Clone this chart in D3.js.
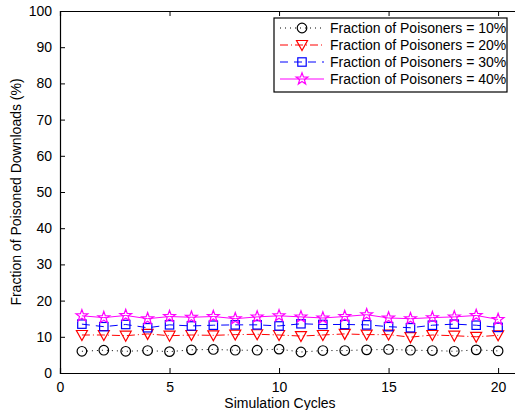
<!DOCTYPE html>
<html lang="en">
<head>
<meta charset="UTF-8">
<title>Fraction of Poisoned Downloads</title>
<style>
  body { margin: 0; background: #fff; }
  svg { display: block; font-family: "Liberation Sans", Arial, sans-serif; }
  .axis path, .axis line { stroke: #000; }
  .axis text { font-size: 14px; fill: #000; }
</style>
</head>
<body>
<svg id="chart"></svg>
<script src="https://cdnjs.cloudflare.com/ajax/libs/d3/7.8.5/d3.min.js"></script>
<script>
var cycles = d3.range(1, 21);
var xTicks = [0, 5, 10, 15, 20];
var yTicks = [0, 10, 20, 30, 40, 50, 60, 70, 80, 90, 100];

var p10 = [6.0, 6.3, 6.0, 6.2, 5.9, 6.4, 6.5, 6.3, 6.3, 6.6, 5.8, 6.2, 6.2, 6.4, 6.5, 6.3, 6.2, 6.0, 6.4, 6.1];
var p20 = [10.5, 10.5, 10.3, 10.8, 10.3, 10.5, 10.4, 10.6, 10.7, 10.5, 10.2, 10.5, 10.8, 10.6, 10.6, 9.9, 10.5, 10.3, 10.0, 10.4];
var p30 = [13.5, 12.8, 13.4, 12.5, 13.3, 13.0, 13.2, 13.3, 13.3, 13.0, 13.6, 13.4, 13.4, 13.3, 12.8, 12.5, 13.2, 13.5, 13.2, 12.6];
var p40 = [15.8, 15.3, 15.9, 15.0, 15.6, 15.4, 15.6, 15.0, 15.5, 15.8, 15.5, 15.2, 15.6, 16.1, 15.2, 15.0, 15.3, 15.5, 15.9, 14.8];

var labels = ["Fraction of Poisoners = 10%", "Fraction of Poisoners = 20%",
              "Fraction of Poisoners = 30%", "Fraction of Poisoners = 40%"];

var width = 515, height = 410;
var margin = { left: 60, top: 11, right: 520, bottom: 373 };

var svg = d3.select("#chart").attr("width", width).attr("height", height);

var x = d3.scaleLinear().domain([0, 21]).range([margin.left, margin.right]);
var y = d3.scaleLinear().domain([0, 100]).range([margin.bottom, margin.top]);

// series styling
var series = [
  { values: p10, color: "#000", dash: "1,4", marker: "circle" },
  { values: p20, color: "#ff0000", dash: "8,3,1,3", marker: "tri" },
  { values: p30, color: "#0000ff", dash: "8,6", marker: "square" },
  { values: p40, color: "#ff00ff", dash: null, marker: "star" }
];

function drawMarker(g, type, color) {
  if (type == "circle") {
    g.append("circle").attr("r", 4.8).attr("fill", "none").attr("stroke", color).attr("stroke-width", 1.2);
  } else if (type == "tri") {
    g.append("path").attr("d", "M-5.5,-4.5L5.5,-4.5L0,5.5Z").attr("fill", "none").attr("stroke", color).attr("stroke-width", 1.2);
  } else if (type == "square") {
    g.append("rect").attr("x", -4.2).attr("y", -4.2).attr("width", 8.4).attr("height", 8.4)
      .attr("fill", "none").attr("stroke", color).attr("stroke-width", 1.2);
  } else {
    var pts = [];
    for (var i = 0; i < 10; i++) {
      var r = i % 2 ? 2.5 : 6.2, a = -Math.PI / 2 + i * Math.PI / 5;
      pts.push([r * Math.cos(a), r * Math.sin(a)]);
    }
    g.append("path").attr("d", "M" + pts.join("L") + "Z").attr("fill", "none").attr("stroke", color).attr("stroke-width", 1.2);
  }
}

var plot = svg.append("g");

var line = d3.line().x(function(d, i) { return x(cycles[i]); }).y(function(d) { return y(d); });

series.forEach(function(s) {
  plot.append("path")
    .datum(s.values)
    .attr("d", line)
    .attr("fill", "none")
    .attr("stroke", s.color)
    .attr("stroke-width", 1)
    .attr("stroke-dasharray", s.dash);
  s.values.forEach(function(v, i) {
    var g = plot.append("g").attr("transform", "translate(" + x(cycles[i]) + "," + y(v) + ")");
    drawMarker(g, s.marker, s.color);
  });
});

// axes, matlab style: inward ticks, box on
svg.append("g").attr("class", "axis")
  .attr("transform", "translate(0," + margin.bottom + ")")
  .call(d3.axisBottom(x).tickValues(xTicks).tickSize(-5).tickPadding(9).tickFormat(d3.format("d")));
svg.append("g").attr("class", "axis")
  .attr("transform", "translate(0," + margin.top + ")")
  .call(d3.axisTop(x).tickValues(xTicks).tickSize(-5).tickFormat(""));
svg.append("g").attr("class", "axis")
  .attr("transform", "translate(" + margin.left + ",0)")
  .call(d3.axisLeft(y).tickValues(yTicks).tickSize(-5).tickPadding(8).tickFormat(d3.format("d")));
svg.selectAll(".axis path.domain").attr("stroke-width", 1.2);

svg.append("text")
  .attr("x", 280).attr("y", 408)
  .attr("text-anchor", "middle")
  .style("font-size", "14px")
  .text("Simulation Cycles");

svg.append("text")
  .attr("transform", "translate(21," + ((margin.top + margin.bottom) / 2) + ") rotate(-90)")
  .attr("text-anchor", "middle")
  .style("font-size", "14px")
  .text("Fraction of Poisoned Downloads (%)");

// legend
var lg = svg.append("g").attr("transform", "translate(274,18)");
lg.append("rect").attr("width", 233).attr("height", 74)
  .attr("fill", "#fff").attr("stroke", "#000").attr("stroke-width", 1.2);
series.forEach(function(s, i) {
  var row = lg.append("g").attr("transform", "translate(0," + (10 + i * 17) + ")");
  row.append("line").attr("x1", 6).attr("x2", 50)
    .attr("stroke", s.color).attr("stroke-dasharray", s.dash);
  var m = row.append("g").attr("transform", "translate(28,0)");
  drawMarker(m, s.marker, s.color);
  row.append("text").attr("x", 56).attr("y", 5)
    .style("font-size", "14px")
    .text(labels[i]);
});
</script>
</body>
</html>
